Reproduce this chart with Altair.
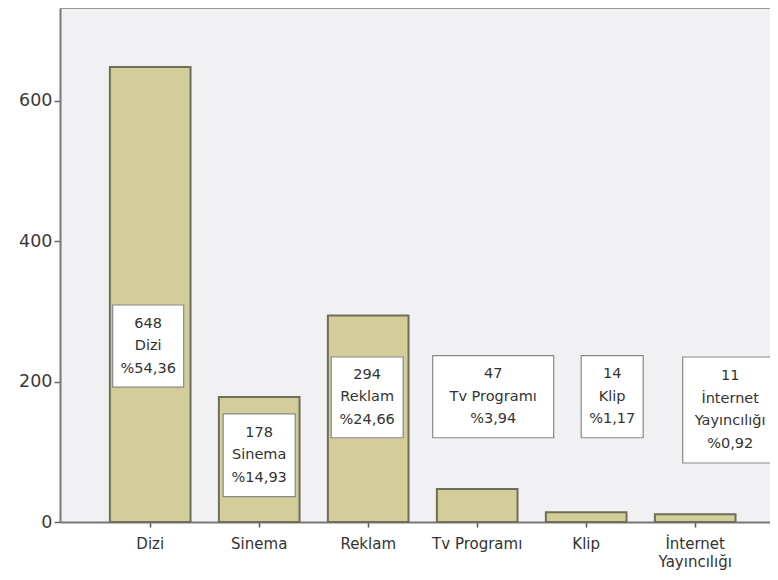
import altair as alt
import pandas as pd

# --- data ---
categories = ["Dizi", "Sinema", "Reklam", "Tv Programı", "Klip", "İnternet Yayıncılığı"]
counts = [648, 178, 294, 47, 14, 11]
percents = ["%54,36", "%14,93", "%24,66", "%3,94", "%1,17", "%0,92"]
label_names = ["Dizi", "Sinema", "Reklam", "Tv Programı", "Klip", "İnternet\nYayıncılığı"]

# --- annotation box layout (data units for y, pixels for width/offset) ---
box_lo = [192, 36, 120, 120, 120, 84]
box_hi = [309, 154, 235, 237, 237, 235]
box_w = [71, 72, 72, 121, 62, 95]
box_dx = [-2, 0, -1, 16, 26, 35]

FONT = "DejaVu Sans"
W, H = 718, 514
YMAX = 732
LH = 22.5

bars_df = pd.DataFrame({"cat": categories, "n": counts})

x_enc = alt.X(
    "cat:N",
    sort=categories,
    title=None,
    scale=alt.Scale(paddingInner=0.26, paddingOuter=0.4237, align=0.54),
    axis=alt.Axis(
        labelAngle=0,
        labelFont=FONT,
        labelFontSize=15,
        labelColor="#333333",
        labelPadding=9,
        tickColor="#555555",
        tickSize=5,
        tickWidth=1.5,
        domainColor="#777777",
        domainWidth=2,
        labelLineHeight=18,
        labelExpr="datum.label == 'İnternet Yayıncılığı' ? ['İnternet', 'Yayıncılığı'] : datum.label",
    ),
)

y_scale = alt.Scale(domain=[0, YMAX], nice=False)

bars = alt.Chart(bars_df).mark_bar(
    color="#d2cd99", stroke="#6e6e5a", strokeWidth=2
).encode(
    x=x_enc,
    y=alt.Y(
        "n:Q",
        scale=y_scale,
        title=None,
        axis=alt.Axis(
            values=[0, 200, 400, 600],
            grid=False,
            labelFont=FONT,
            labelFontSize=17.5,
            labelColor="#3a3a3a",
            tickColor="#666666",
            tickSize=6,
            tickWidth=1.5,
            domainColor="#777777",
            domainWidth=2,
            labelPadding=2,
        ),
    ),
)

top_rule = alt.Chart(bars_df).mark_rule(color="#999999", strokeWidth=2).encode(
    x=alt.value(0), x2=alt.value(W), y=alt.value(0)
)

layers = [bars, top_rule]
for i, cat in enumerate(categories):
    txt_str = f"{counts[i]}\n{label_names[i]}\n{percents[i]}"
    n_lines = txt_str.count("\n") + 1
    d = pd.DataFrame({
        "cat": [cat],
        "lo": [box_lo[i]],
        "hi": [box_hi[i]],
        "mid": [(box_lo[i] + box_hi[i]) / 2],
        "txt": [txt_str],
    })
    box = alt.Chart(d).mark_bar(
        width=box_w[i], xOffset=box_dx[i], color="white", stroke="#888888", strokeWidth=1.2
    ).encode(
        x=alt.X("cat:N", sort=categories),
        y=alt.Y("lo:Q", scale=y_scale),
        y2="hi:Q",
    )
    txt = alt.Chart(d).mark_text(
        font=FONT, fontSize=14.5, color="#333333", lineBreak="\n", lineHeight=LH,
        baseline="middle", align="center", dx=box_dx[i], dy=-LH * (n_lines - 1) / 2
    ).encode(
        x=alt.X("cat:N", sort=categories),
        y=alt.Y("mid:Q", scale=y_scale),
        text="txt:N",
    )
    layers += [box, txt]

chart = alt.layer(*layers).properties(
    width=W,
    height=H,
    autosize=alt.AutoSizeParams(type="none"),
    padding={"left": 52, "top": 0, "right": -8, "bottom": 50},
    background="white",
).configure_view(stroke=None, fill="#f1f1f3")

chart.save("out.html", embed_options={"renderer": "svg", "actions": False})
